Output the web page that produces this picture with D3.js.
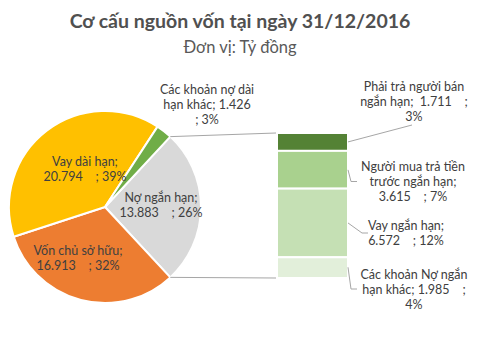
<!DOCTYPE html>
<html><head><meta charset="utf-8">
<script src="https://cdn.jsdelivr.net/npm/d3@7"></script>
<style>body{margin:0;background:#fff}svg{display:block}</style>
</head><body><div id="chart"></div>
<script>
const title = "Cơ cấu nguồn vốn tại ngày 31/12/2016";
const subtitle = "Đơn vị: Tỷ đồng";
const pieCategories = ["Nợ ngắn hạn", "Vốn chủ sở hữu", "Vay dài hạn", "Các khoản nợ dài hạn khác"];
const pieValues = [13883, 16913, 20794, 1426];
const pieColors = ["#D9D9D9", "#ED7D31", "#FFC000", "#70AD47"];
const barCategories = ["Phải trả người bán ngắn hạn", "Người mua trả tiền trước ngắn hạn", "Vay ngắn hạn", "Các khoản Nợ ngắn hạn khác"];
const barValues = [1711, 3615, 6572, 1985];
const barColors = ["#548235", "#A9D18E", "#C5E0B4", "#E2EFDA"];

const W = 480, H = 357;
const total = d3.sum(pieValues);
const fmtNum = v => d3.format(",")(v).replace(/,/g, ".");
const fmtPct = v => Math.round(v / total * 100) + "%";

const svg = d3.select("#chart").append("svg").attr("width", W).attr("height", H);
const font = "Lato, 'Open Sans', sans-serif";
const labelFont = "Lato, 'Open Sans', sans-serif";

svg.append("text").attr("x", 240).attr("y", 28).attr("text-anchor", "middle")
  .attr("font-family", font).attr("font-weight", "bold").attr("font-size", 19.5)
  .attr("fill", "#505050").text(title);
svg.append("text").attr("x", 240).attr("y", 53).attr("text-anchor", "middle")
  .attr("font-family", font).attr("font-size", 16.5)
  .attr("fill", "#595959").text(subtitle);

// Pie
const cx = 105, cy = 207, R = 96;
const startAngle = Math.PI / 2 - (pieValues[0] / total) * Math.PI;
const pie = d3.pie().sort(null).startAngle(startAngle).endAngle(startAngle + 2 * Math.PI);
const arcs = pie(pieValues);
const arc = d3.arc().innerRadius(0).outerRadius(R);
const g = svg.append("g").attr("transform", `translate(${cx},${cy})`);
g.selectAll("path").data(arcs).enter().append("path")
  .attr("d", arc).attr("fill", (d, i) => pieColors[i])
  .attr("stroke", "#fff").attr("stroke-width", 2).attr("stroke-linejoin", "round");

// Bar
const barX = 277, barW = 71, barTop = 133, barBottom = 278;
const barTotal = d3.sum(barValues);
const y = d3.scaleLinear().domain([0, barTotal]).range([barTop, barBottom]);
let acc = 0;
const segs = barValues.map((v, i) => { const s = {i, v, y0: acc, y1: acc + v}; acc += v; return s; });
svg.selectAll("rect.seg").data(segs).enter().append("rect").attr("class", "seg")
  .attr("x", barX).attr("width", barW)
  .attr("y", d => y(d.y0)).attr("height", d => y(d.y1) - y(d.y0))
  .attr("fill", d => barColors[d.i]).attr("stroke", "#fff").attr("stroke-width", 2);

// Connector lines from pie slice edges to bar
const a0 = arcs[0].startAngle, a1 = arcs[0].endAngle;
const edge = a => [cx + R * Math.sin(a), cy - R * Math.cos(a)];
const p0 = edge(a0), p1 = edge(a1);
svg.append("line").attr("x1", p0[0]).attr("y1", p0[1]).attr("x2", barX - 1).attr("y2", y(0))
  .attr("stroke", "#A6A6A6").attr("stroke-width", 1);
svg.append("line").attr("x1", p1[0]).attr("y1", p1[1]).attr("x2", barX - 1).attr("y2", y(barTotal))
  .attr("stroke", "#A6A6A6").attr("stroke-width", 1);

// Labels
const txtColor = "#404040";
function label(x, yb, lines, size) {
  const t = svg.append("text").attr("text-anchor", "middle").attr("font-family", labelFont)
    .attr("font-size", size || 12.5).attr("fill", txtColor).attr("xml:space", "preserve");
  lines.forEach((l, k) => t.append("tspan").attr("x", x).attr("y", yb + k * 15).text(l));
}
// pie labels (inside), positioned relative to pie centre
label(cx + 56, 202, [pieCategories[0] + ";", fmtNum(pieValues[0]) + "    ; " + fmtPct(pieValues[0])]);
label(cx - 27, 255, [pieCategories[1] + ";", fmtNum(pieValues[1]) + "    ; " + fmtPct(pieValues[1])]);
label(cx - 20, 166, [pieCategories[2] + ";", fmtNum(pieValues[2]) + "    ; " + fmtPct(pieValues[2])]);
label(207, 94, ["Các khoản nợ dài", "hạn khác; " + fmtNum(pieValues[3]), "; " + fmtPct(pieValues[3])]);

// bar labels
label(414, 91, ["Phải trả người bán", "ngắn hạn;  " + fmtNum(barValues[0]) + "    ;", fmtPct(barValues[0])]);
label(413, 171, ["Người mua trả tiền", "trước ngắn hạn;", fmtNum(barValues[1]) + "    ; " + fmtPct(barValues[1])]);
label(406, 230, ["Vay ngắn hạn;", fmtNum(barValues[2]) + "    ; " + fmtPct(barValues[2])]);
label(414, 279, ["Các khoản Nợ ngắn", "hạn khác; " + fmtNum(barValues[3]) + "    ;", fmtPct(barValues[3])]);

// leader lines for bar labels
const mid = i => (y(segs[i].y0) + y(segs[i].y1)) / 2;
const leaders = [
  [[barX + barW, mid(0)], [412, 125]],
  [[barX + barW, y(segs[1].y0) + 19], [351, 181.5], [357, 181.5]],
  [[barX + barW, mid(2)], [362, 233], [368, 233]],
  [[barX + barW, y(segs[3].y0) + 10], [351, 289], [357, 289]]
];
svg.selectAll("path.leader").data(leaders).enter().append("path").attr("class", "leader")
  .attr("d", d => d3.line()(d)).attr("fill", "none").attr("stroke", "#A6A6A6").attr("stroke-width", 1);
</script></body></html>
